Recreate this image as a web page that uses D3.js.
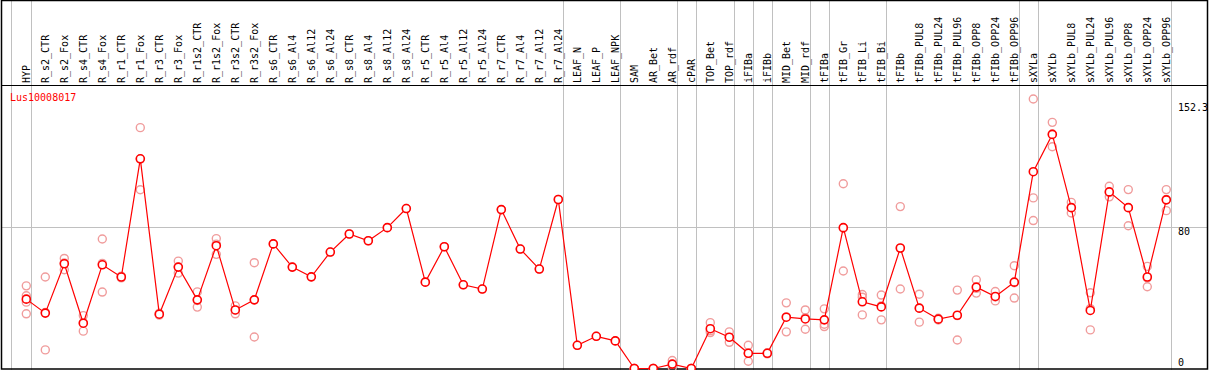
<!DOCTYPE html>
<html lang="en">
  <head>
    <meta charset="utf-8">
    <title>Lus10008017</title>
    <script src="https://d3js.org/d3.v7.min.js"></script>
    <style>
      body { margin: 0; background: #fff; }
      text { font-family: "DejaVu Sans Mono", monospace; font-size: 10px; }
    </style>
  </head>
  <body>
    <div id="chart"></div>
    <script type="text/javascript">
      // tissue / sample names along the top
      var samples = ["HYP", "R_s2_CTR", "R_s2_Fox", "R_s4_CTR", "R_s4_Fox", "R_r1_CTR", "R_r1_Fox",
        "R_r3_CTR", "R_r3_Fox", "R_r1s2_CTR", "R_r1s2_Fox", "R_r3s2_CTR", "R_r3s2_Fox",
        "R_s6_CTR", "R_s6_Al4", "R_s6_Al12", "R_s6_Al24", "R_s8_CTR", "R_s8_Al4", "R_s8_Al12", "R_s8_Al24",
        "R_r5_CTR", "R_r5_Al4", "R_r5_Al12", "R_r5_Al24", "R_r7_CTR", "R_r7_Al4", "R_r7_Al12", "R_r7_Al24",
        "LEAF_N", "LEAF_P", "LEAF_NPK", "SAM", "AR_Bet", "AR_rdf", "cPAR", "TOP_Bet", "TOP_rdf",
        "iFIBa", "iFIBb", "MID_Bet", "MID_rdf", "tFIBa", "tFIB_Gr", "tFIB_Li", "tFIB_Bi",
        "tFIBb", "tFIBb_PUL8", "tFIBb_PUL24", "tFIBb_PUL96", "tFIBb_OPP8", "tFIBb_OPP24", "tFIBb_OPP96",
        "sXYLa", "sXYLb", "sXYLb_PUL8", "sXYLb_PUL24", "sXYLb_PUL96", "sXYLb_OPP8", "sXYLb_OPP24", "sXYLb_OPP96"];

      // mean expression per sample
      var means = [39.2, 31.3, 59.2, 25.6, 58.6, 51.7, 118.5,
        30.7, 57.3, 38.8, 69.4, 33.1, 38.8,
        70.4, 57.3, 51.8, 65.8, 76.0, 72.2, 79.6, 90.4,
        48.8, 68.8, 47.3, 44.9, 89.8, 67.5, 56.2, 95.5,
        13.1, 18.2, 15.6, 0, 0, 2.5, 0, 22.5, 17.7,
        8.6, 8.6, 29.0, 28.0, 27.5, 79.6, 37.7, 34.8,
        68.1, 34.1, 27.9, 30.1, 46.0, 40.7, 48.8,
        111.2, 132.3, 90.9, 32.8, 99.8, 90.9, 51.7, 95.3];

      // individual replicates per sample
      var replicates = [[46.7, 41.1, 37.5, 30.9], [51.7, 10.5, 31.7], [62.2, 55.8, 59.6], [29.9, 21.1, 25.8],
        [73.2, 43.2, 59.4], [51.2, 51.7, 52.2], [136.1, 101.0, 118.4],
        [30.2, 30.7, 31.2], [60.7, 53.9, 57.3], [43.3, 34.7, 38.4], [73.4, 64.5, 70.3],
        [35.4, 30.9, 33.0], [59.8, 17.8, 38.8],
        [70.4], [57.3], [51.8], [65.8], [76.0], [72.2], [79.6], [90.4],
        [48.8], [68.8], [47.3], [44.9], [89.8], [67.5], [56.2], [95.5],
        [13.1], [18.2], [15.6], [0, 0, 0], [0, 0, 0], [4.5, 2.5, 0.6], [0, 0, 0],
        [25.9, 20.3, 21.3], [20.7, 14.8, 17.6],
        [13.1, 4.1, 8.6], [8.3, 8.6, 8.9], [37.1, 20.7, 29.2], [33.1, 22.2, 28.7],
        [33.7, 25.0, 23.7], [104.4, 55.1, 79.3], [41.8, 40.3, 30.3], [41.5, 27.5, 35.4],
        [91.5, 44.9, 67.9], [42.0, 26.2, 34.1], [27.4, 27.9, 28.4], [44.3, 16.1, 29.9],
        [50.1, 42.6, 45.3], [43.5, 38.2, 40.4], [58.1, 39.8, 48.5],
        [152.3, 96.4, 83.6], [139.1, 125.3, 132.5], [93.9, 87.9, 90.9], [42.8, 21.8, 33.8],
        [103.0, 97.0, 99.4], [101.1, 80.7, 90.9], [57.7, 46.2, 51.2], [101.1, 89.2, 95.6]];

      // samples after which a group separator is drawn
      var groupEnds = ["HYP", "R_r7_Al24", "LEAF_NPK", "AR_rdf", "cPAR", "TOP_rdf", "iFIBa", "iFIBb",
        "MID_rdf", "tFIBa", "tFIB_Bi", "tFIBb_OPP96", "sXYLa", "sXYLb_OPP96"];

      var yTicks = [0, 80, 152.3];
      var geneName = "Lus10008017";

      var width = 1209, height = 370;
      var headerBottom = 85.5;

      var svg = d3.select("#chart")
        .append("svg")
        .attr("width", width)
        .attr("height", height);

      var x = d3.scalePoint()
        .domain(samples)
        .range([26.3, 1166.3]);

      var y = d3.scaleLinear()
        .domain([0, 152.3])
        .range([368.5, 99]);

      // grey separators
      var sepX = [x(samples[0]) - 15].concat(groupEnds.map((s) => x(s) + 4.4));
      svg.selectAll(".sep")
        .data(sepX)
        .enter()
        .append("line")
          .attr("x1", (d) => Math.round(d) + 0.5)
          .attr("x2", (d) => Math.round(d) + 0.5)
          .attr("y1", 0)
          .attr("y2", height)
          .style("stroke", "#c0c0c0")
          .style("stroke-width", 1);

      // horizontal grid line at 80
      svg.append("line")
        .attr("x1", 1)
        .attr("x2", width - 1)
        .attr("y1", Math.round(y(80)) + 0.5)
        .attr("y2", Math.round(y(80)) + 0.5)
        .style("stroke", "#c0c0c0");

      // frame and header divider
      svg.append("rect")
        .attr("x", 1.5)
        .attr("y", 0.5)
        .attr("width", width - 3)
        .attr("height", height - 1.5)
        .style("fill", "none")
        .style("stroke", "#000")
        .style("stroke-width", 1.5);

      svg.append("line")
        .attr("x1", 1)
        .attr("x2", width - 1)
        .attr("y1", headerBottom)
        .attr("y2", headerBottom)
        .style("stroke", "#000")
        .style("stroke-width", 1.2);

      // sample labels, rotated
      svg.selectAll(".lab")
        .data(samples)
        .enter()
        .append("text")
          .attr("transform", (d) => "translate(" + (x(d) + 4) + "," + 83 + ")rotate(-90)")
          .style("fill", "#000")
          .text((d) => d);

      // right-hand value labels
      svg.selectAll(".ytick")
        .data(yTicks)
        .enter()
        .append("text")
          .attr("x", 1178)
          .attr("y", (d) => Math.min(Math.max(y(d) + 8.5, 111), 366))
          .style("fill", "#000")
          .text((d) => d);

      // gene name
      svg.append("text")
        .attr("x", 10)
        .attr("y", 100.5)
        .style("fill", "#ff0000")
        .text(geneName);

      // replicate points
      var repPoints = [];
      replicates.forEach(function(reps, i) {
        reps.forEach(function(v) { repPoints.push({ s: samples[i], v: v }); });
      });

      svg.selectAll(".rep")
        .data(repPoints)
        .enter()
        .append("circle")
          .attr("cx", (d) => x(d.s))
          .attr("cy", (d) => y(d.v))
          .attr("r", 4)
          .style("fill", "none")
          .style("stroke", "#f09c9c")
          .style("stroke-width", 1.4);

      // mean line
      var line = d3.line()
        .x((d, i) => x(samples[i]))
        .y((d) => y(d));

      svg.append("path")
        .datum(means)
        .attr("d", line)
        .style("fill", "none")
        .style("stroke", "#ff0000")
        .style("stroke-width", 1.2);

      // mean points
      svg.selectAll(".mean")
        .data(means)
        .enter()
        .append("circle")
          .attr("cx", (d, i) => x(samples[i]))
          .attr("cy", (d) => y(d))
          .attr("r", 4)
          .style("fill", "#fff")
          .style("stroke", "#ff0000")
          .style("stroke-width", 1.6);
    </script>
  </body>
</html>
